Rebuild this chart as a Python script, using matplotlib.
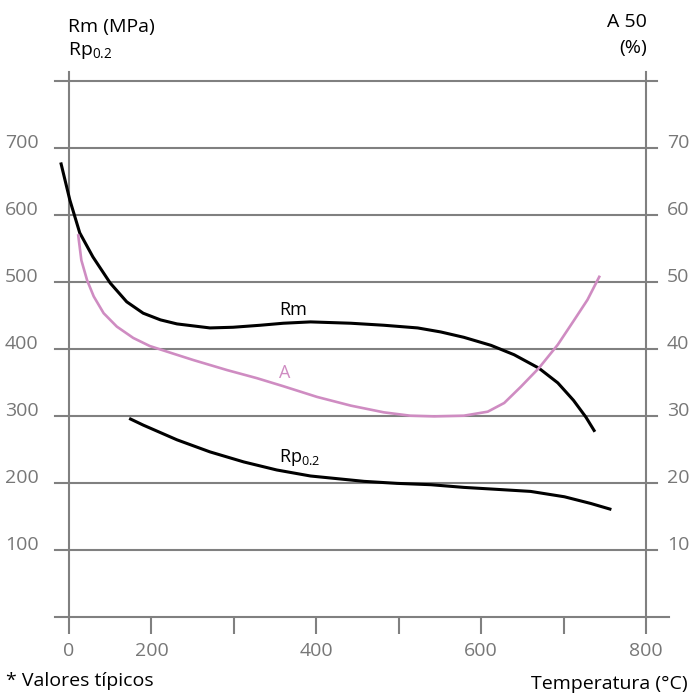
import matplotlib.pyplot as plt

plt.rcParams["font.family"] = ["Open Sans", "DejaVu Sans"]
plt.rcParams["mathtext.fontset"] = "custom"
plt.rcParams["mathtext.rm"] = "Open Sans"

W, H = 689, 697
GRID = "#808080"
TICKTXT = "#777777"
PINK = "#cf8cc2"

# ---- data (temperature in axis units, strength in MPa, A in %) ----
rm_t = [90, 101, 113, 129, 150, 170, 190, 211, 231, 271, 299, 332, 360, 393,
        442, 482, 523, 551, 579, 612, 640, 670, 693, 712, 727, 738]
rm_v = [678, 622, 573, 537, 498, 470, 453, 443, 437, 431, 432, 435, 438, 440,
        438, 435, 431, 425, 417, 405, 391, 371, 349, 323, 298, 276]

a_t = [111, 115, 122, 130, 142, 158, 178, 198, 223, 251, 292, 328, 360, 401,
       442, 482, 514, 543, 579, 608, 628, 648, 670, 693, 713, 729, 744]
a_pct = [57.1, 53.2, 50.2, 47.8, 45.3, 43.3, 41.6, 40.4, 39.4, 38.3, 36.8,
         35.6, 34.4, 32.8, 31.5, 30.5, 30.0, 29.9, 30.0, 30.6, 31.9, 34.3,
         37.1, 40.6, 44.3, 47.3, 50.9]

rp_t = [173, 190, 231, 271, 312, 352, 393, 458, 498, 539, 579, 620, 660, 701,
        733, 758]
rp_v = [296, 286, 264, 246, 231, 219, 210, 202, 199, 197, 193, 190, 187, 179,
        169, 160]

x_ticks = [100, 200, 300, 400, 500, 600, 700, 800]
x_labels = ["0", "200", "", "400", "", "600", "", "800"]
left_ticks = [100, 200, 300, 400, 500, 600, 700]
right_ticks = [10, 20, 30, 40, 50, 60, 70]

fig = plt.figure(figsize=(W / 100, H / 100), dpi=100)
ax_l, ax_r, ax_b, ax_t = 69, 646, 616.7, 80.7
ax = fig.add_axes([ax_l / W, 1 - ax_b / H, (ax_r - ax_l) / W, (ax_b - ax_t) / H])
ax.set_xlim(100, 800)
ax.set_ylim(0, 800)
for s in ax.spines.values():
    s.set_visible(False)

# grid / frame
for v in range(0, 801, 100):
    x1 = 828 if v == 0 else 813
    ax.plot([83, x1], [v, v], color=GRID, lw=1.5, clip_on=False, zorder=1)
for x in (100, 800):
    ax.plot([x, x], [0, 813], color=GRID, lw=1.5, clip_on=False, zorder=1)

ax.set_xticks(x_ticks)
ax.set_xticklabels(x_labels)
ax.tick_params(axis="x", direction="out", length=12, width=1.5, color=GRID,
               labelcolor=TICKTXT, labelsize=14, pad=6)

ax.set_yticks(left_ticks)
ax.set_yticklabels([str(t) for t in left_ticks])
ax.tick_params(axis="y", length=0, labelcolor=TICKTXT, labelsize=14, pad=22)
for lab in ax.get_yticklabels():
    lab.set_va("baseline")

ax2 = ax.twinx()
ax2.set_ylim(0, 80)
for s in ax2.spines.values():
    s.set_visible(False)
ax2.set_yticks(right_ticks)
ax2.set_yticklabels([str(t) for t in right_ticks])
ax2.tick_params(axis="y", length=0, labelcolor=TICKTXT, labelsize=14, pad=15)
for lab in ax2.get_yticklabels():
    lab.set_va("baseline")

# curves
ax.plot(rm_t, rm_v, color="black", lw=2.2, solid_capstyle="butt",
        solid_joinstyle="round", clip_on=False, zorder=3)
ax.plot(rp_t, rp_v, color="black", lw=2.2, solid_capstyle="butt",
        solid_joinstyle="round", clip_on=False, zorder=3)
ax2.plot(a_t, a_pct, color=PINK, lw=1.9, solid_capstyle="butt",
         solid_joinstyle="round", clip_on=False, zorder=3)


def ftext(x, y, s, **kw):
    fig.text(x / W, 1 - y / H, s, va="baseline", **kw)


ftext(279, 315, "Rm", fontsize=13, color="black")
ftext(279, 378, "A", fontsize=13, color=PINK)
ftext(279, 462, r"Rp$_{\mathregular{0.2}}$", fontsize=13, color="black")

ftext(68, 32, "Rm (MPa)", fontsize=14, color="black")
ftext(68, 55, r"Rp$_{\mathregular{0.2}}$", fontsize=14, color="black")
ftext(647, 27, "A 50", fontsize=14, color="black", ha="right")
ftext(647, 53, "(%)", fontsize=14, color="black", ha="right")
ftext(6, 686, "* Valores típicos", fontsize=14, color="black")
ftext(688, 689, "Temperatura (°C)", fontsize=14, color="black", ha="right")

fig.savefig("out.png", dpi=100)
